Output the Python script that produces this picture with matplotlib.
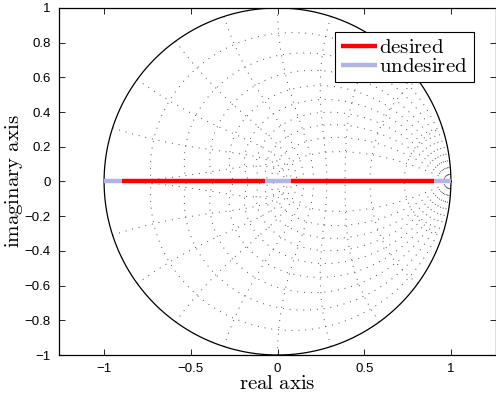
import numpy as np
import matplotlib
matplotlib.use("Agg")
import matplotlib.pyplot as plt
from matplotlib.ticker import FixedLocator, FuncFormatter

plt.rcParams['mathtext.fontset'] = 'cm'
plt.rcParams['font.family'] = ['Liberation Sans', 'DejaVu Sans']

# zgrid parameters
zetas = [0.1, 0.2, 0.3, 0.4, 0.5, 0.6, 0.7, 0.8, 0.9]
wn_fracs = [0.1, 0.2, 0.3, 0.4, 0.5, 0.6, 0.7, 0.8, 0.9, 1.0]

# real-axis segments (start, end)
desired = [(-0.895, -0.07), (0.075, 0.905)]
undesired = [(-1.0, -0.895), (-0.07, 0.075), (0.905, 1.0)]

xticks = [-1, -0.5, 0, 0.5, 1]
yticks = [-1, -0.8, -0.6, -0.4, -0.2, 0, 0.2, 0.4, 0.6, 0.8, 1]

red = '#ff0000'
blue = '#b3b3e6'
grid_kw = dict(color='0.3', lw=0.7, linestyle=(0, (1, 6)))

fig = plt.figure(figsize=(4.96, 4.0), dpi=100)
ax = fig.add_axes([59 / 496, 45 / 400, 437 / 496, 347 / 400])

# damping ratio lines
theta = np.linspace(0, np.pi, 400)
for z in zetas:
    zz = np.exp((-z / np.sqrt(1 - z**2) + 1j) * theta)
    ax.plot(zz.real, zz.imag, **grid_kw)
    ax.plot(zz.real, -zz.imag, **grid_kw)

# natural frequency curves
zeta_r = np.linspace(0, 1, 300)
for f in wn_fracs:
    wn = f * np.pi
    zz = np.exp(-zeta_r * wn + 1j * wn * np.sqrt(1 - zeta_r**2))
    ax.plot(zz.real, zz.imag, **grid_kw)
    ax.plot(zz.real, -zz.imag, **grid_kw)

# unit circle
t = np.linspace(0, 2 * np.pi, 600)
ax.plot(np.cos(t), np.sin(t), color='k', lw=0.9)

for i, (a, b) in enumerate(undesired):
    ax.plot([a, b], [0, 0], color=blue, lw=3.2, solid_capstyle='butt',
            label='$\\mathrm{undesired}$' if i == 0 else None, zorder=3)
for i, (a, b) in enumerate(desired):
    ax.plot([a, b], [0, 0], color=red, lw=3.2, solid_capstyle='butt',
            label='$\\mathrm{desired}$' if i == 0 else None, zorder=4)

ax.set_xlim(-1.26, 1.26)
ax.set_ylim(-1, 1)
ax.xaxis.set_major_locator(FixedLocator(xticks))
ax.yaxis.set_major_locator(FixedLocator(yticks))
fmt = FuncFormatter(lambda v, p: ('%g' % v).replace('-', '\u2212'))
ax.xaxis.set_major_formatter(fmt)
ax.yaxis.set_major_formatter(fmt)
ax.tick_params(direction='in', top=True, right=True, length=4, width=0.6,
               labelsize=9.5, pad=6)
for s in ax.spines.values():
    s.set_linewidth(0.9)

ax.set_xlabel('$\\mathrm{real\\ axis}$', fontsize=15, labelpad=-1)
ax.set_ylabel('$\\mathrm{imaginary\\ axis}$', fontsize=15, labelpad=0)

h, l = ax.get_legend_handles_labels()
leg = ax.legend(h[::-1], l[::-1], loc='upper left', bbox_to_anchor=(0.632, 0.931),
                fontsize=15, handlelength=1.7, handletextpad=0.1,
                borderpad=0.3, labelspacing=0.0, fancybox=False,
                framealpha=1, edgecolor='k', borderaxespad=0)
leg.get_frame().set_linewidth(0.8)

fig.savefig('out.png', dpi=100)
